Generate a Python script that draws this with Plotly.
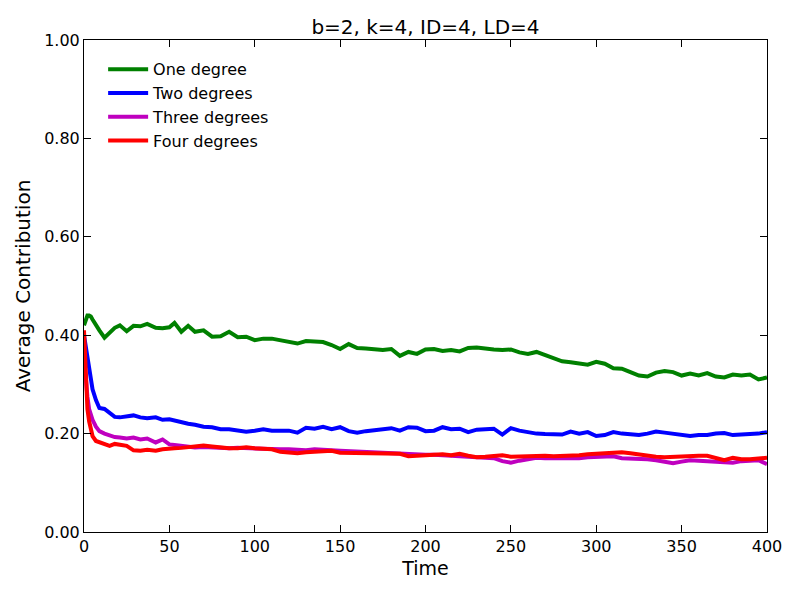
import plotly.graph_objects as go

time = [0, 1, 2, 3, 4, 5, 7, 9, 12, 15, 18, 21, 25, 29, 33, 37, 42, 46, 50, 53, 57, 61, 65,
        70, 75, 80, 85, 90, 95, 100, 105, 110, 115, 120, 125, 130, 135, 140, 145, 150,
        155, 160, 165, 170, 175, 180, 185, 190, 195, 200, 205, 210, 215, 220, 225, 230,
        235, 240, 245, 250, 255, 260, 265, 270, 275, 280, 285, 290, 295, 300, 305, 310,
        315, 320, 325, 330, 335, 340, 345, 350, 355, 360, 365, 370, 375, 380, 385, 390,
        395, 400]

one_degree = [0.42, 0.43, 0.44, 0.44, 0.438, 0.432, 0.42, 0.41, 0.395, 0.405, 0.415, 0.42,
              0.408, 0.419, 0.418, 0.423, 0.415, 0.414, 0.416, 0.425, 0.407, 0.419, 0.407,
              0.41, 0.397, 0.398, 0.407, 0.396, 0.397, 0.39, 0.393, 0.393, 0.389, 0.385,
              0.383, 0.388, 0.386, 0.386, 0.38, 0.372, 0.382, 0.374, 0.373, 0.372, 0.37,
              0.372, 0.358, 0.366, 0.362, 0.371, 0.372, 0.368, 0.37, 0.367, 0.374, 0.375,
              0.372, 0.371, 0.37, 0.371, 0.365, 0.362, 0.366, 0.36, 0.352, 0.347, 0.345,
              0.343, 0.34, 0.346, 0.342, 0.333, 0.332, 0.325, 0.318, 0.316, 0.324, 0.327,
              0.325, 0.318, 0.322, 0.318, 0.323, 0.316, 0.314, 0.32, 0.318, 0.32, 0.31, 0.314]

two_degrees = [0.40, 0.38, 0.355, 0.335, 0.31, 0.29, 0.268, 0.252, 0.25, 0.242, 0.234, 0.233,
               0.234, 0.237, 0.233, 0.231, 0.233, 0.228, 0.229, 0.226, 0.222, 0.22, 0.218,
               0.214, 0.213, 0.209, 0.209, 0.207, 0.204, 0.206, 0.209, 0.206, 0.207, 0.206,
               0.202, 0.212, 0.21, 0.214, 0.209, 0.213, 0.205, 0.202, 0.205, 0.207, 0.209,
               0.211, 0.206, 0.213, 0.212, 0.205, 0.206, 0.213, 0.209, 0.21, 0.203, 0.208,
               0.209, 0.21, 0.198, 0.211, 0.206, 0.202, 0.2, 0.199, 0.199, 0.198, 0.204, 0.2,
               0.203, 0.195, 0.197, 0.203, 0.2, 0.198, 0.197, 0.2, 0.204, 0.202, 0.2, 0.197,
               0.195, 0.197, 0.197, 0.2, 0.201, 0.197, 0.197, 0.199, 0.2, 0.203]

three_degrees = [0.36, 0.31, 0.275, 0.25, 0.235, 0.228, 0.214, 0.205, 0.2, 0.196, 0.193, 0.192,
                 0.19, 0.192, 0.188, 0.19, 0.182, 0.188, 0.178, 0.177, 0.176, 0.174, 0.172,
                 0.173, 0.172, 0.171, 0.17, 0.171, 0.17, 0.171, 0.17, 0.169, 0.168, 0.168,
                 0.167, 0.166, 0.168, 0.168, 0.166, 0.165, 0.164, 0.163, 0.163, 0.162, 0.161,
                 0.161, 0.16, 0.158, 0.158, 0.157, 0.157, 0.156, 0.155, 0.155, 0.154, 0.152,
                 0.15, 0.15, 0.144, 0.141, 0.145, 0.148, 0.151, 0.15, 0.15, 0.149, 0.148, 0.15,
                 0.152, 0.153, 0.153, 0.154, 0.15, 0.15, 0.149, 0.148, 0.146, 0.143, 0.14,
                 0.143, 0.146, 0.145, 0.144, 0.145, 0.144, 0.141, 0.144, 0.145, 0.146, 0.138]

four_degrees = [0.41, 0.30, 0.25, 0.225, 0.205, 0.195, 0.185, 0.182, 0.179, 0.175, 0.179, 0.177,
                0.175, 0.166, 0.165, 0.167, 0.165, 0.168, 0.168, 0.17, 0.171, 0.172, 0.173,
                0.176, 0.174, 0.171, 0.17, 0.17, 0.172, 0.17, 0.168, 0.168, 0.163, 0.161,
                0.16, 0.162, 0.163, 0.164, 0.165, 0.161, 0.161, 0.16, 0.16, 0.161, 0.16, 0.16,
                0.159, 0.154, 0.156, 0.156, 0.157, 0.158, 0.156, 0.159, 0.155, 0.152, 0.153,
                0.154, 0.156, 0.153, 0.154, 0.155, 0.156, 0.155, 0.154, 0.154, 0.156, 0.156,
                0.158, 0.159, 0.16, 0.163, 0.162, 0.16, 0.157, 0.154, 0.153, 0.152, 0.153,
                0.153, 0.154, 0.155, 0.155, 0.15, 0.146, 0.151, 0.148, 0.148, 0.15, 0.151]

series = [
    ("One degree", one_degree, "#008000"),
    ("Two degrees", two_degrees, "#0000ff"),
    ("Three degrees", three_degrees, "#bf00bf"),
    ("Four degrees", four_degrees, "#ff0000"),
]

x_ticks = [0, 50, 100, 150, 200, 250, 300, 350, 400]
y_ticks = [0.0, 0.2, 0.4, 0.6, 0.8, 1.0]

fig = go.Figure()
for name, vals, color in series:
    fig.add_trace(go.Scatter(x=time, y=vals, mode="lines", name=name,
                             line=dict(color=color, width=4)))

axis_common = dict(showgrid=False, zeroline=False, showline=True, linecolor="black",
                   linewidth=1, mirror="ticks", ticks="inside", ticklen=7,
                   tickcolor="black", tickfont=dict(size=16, color="black"))

fig.update_layout(
    width=800, height=600,
    margin=dict(l=84, r=33, t=40, b=68),
    paper_bgcolor="white", plot_bgcolor="white",
    font=dict(family="DejaVu Sans", color="black"),
    title=dict(text="b=2, k=4, ID=4, LD=4", x=0.5, xanchor="center", xref="paper",
               y=0.955, yanchor="middle", font=dict(size=20)),
    xaxis=dict(range=[0, 400], tickvals=x_ticks,
               title=dict(text="Time", font=dict(size=19), standoff=6), **axis_common),
    yaxis=dict(range=[0, 1], tickvals=y_ticks, tickformat=".2f",
               title=dict(text="Average Contribution", font=dict(size=20), standoff=8),
               **axis_common),
    legend=dict(x=0.028, y=0.975, xanchor="left", yanchor="top", bgcolor="rgba(0,0,0,0)",
                borderwidth=0, font=dict(size=16), tracegroupgap=0, itemwidth=40),
    showlegend=True,
)

fig.write_html("out.html")
